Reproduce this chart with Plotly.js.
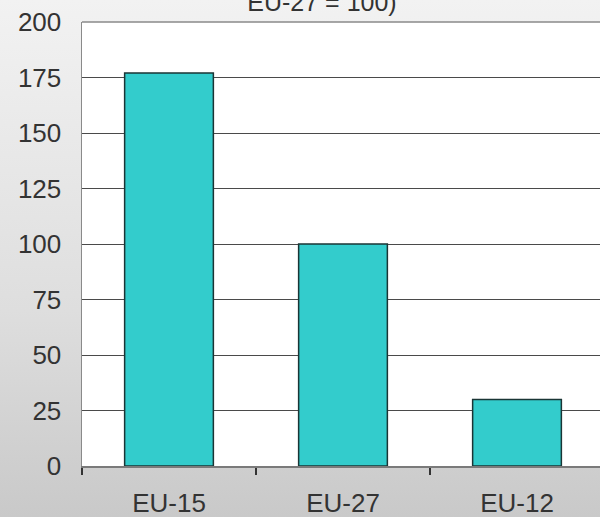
<!DOCTYPE html>
<html>
<head>
<meta charset="utf-8">
<script src="https://cdn.plot.ly/plotly-3.0.1.min.js"></script>
<style>
  html, body { margin: 0; padding: 0; }
  body { width: 600px; height: 517px; background: linear-gradient(to bottom, #f2f2f2 0%, #dedede 60%, #c9c9c9 100%); overflow: hidden; }
  #chart { width: 600px; height: 517px; }
</style>
</head>
<body>
<div id="chart"></div>
<script>
const categories = ["EU-15", "EU-27", "EU-12"];
const values = [177, 100, 30];
const yTicks = [0, 25, 50, 75, 100, 125, 150, 175, 200];
const titleText = "EU-27 = 100)";

const font = "Liberation Sans, Arial, sans-serif";

const trace = {
  type: "bar",
  x: categories,
  y: values,
  marker: { color: "#33cccc", line: { color: "#1a3535", width: 1.5 } },
  hoverinfo: "x+y"
};

const layout = {
  width: 600,
  height: 517,
  margin: { l: 82, r: 0, t: 22, b: 51, pad: 0 },
  paper_bgcolor: "rgba(0,0,0,0)",
  plot_bgcolor: "#ffffff",
  showlegend: false,
  bargap: 0.49,
  title: {
    text: titleText,
    font: { family: font, size: 25, color: "#333333" },
    x: 322 / 600, xanchor: "center", xref: "container",
    y: 1 - 11 / 517, yanchor: "bottom", yref: "container"
  },
  xaxis: {
    type: "category",
    range: [-0.5, 2.477],
    showgrid: false,
    showline: true,
    linecolor: "#7a7a7a",
    linewidth: 1.5,
    ticks: "outside",
    tickson: "boundaries",
    ticklen: 7,
    tickwidth: 1.5,
    tickcolor: "#333333",
    ticklabelstandoff: 13,
    tickfont: { family: font, size: 26, color: "#333333" },
    fixedrange: true
  },
  yaxis: {
    range: [0, 200],
    tickvals: yTicks,
    ticktext: yTicks.map(String),
    showgrid: true,
    gridcolor: "#4a4a4a",
    gridwidth: 1,
    zeroline: false,
    showline: true,
    linecolor: "#8a8a8a",
    linewidth: 1.5,
    ticks: "",
    ticklabelstandoff: 14,
    tickfont: { family: font, size: 26, color: "#333333" },
    fixedrange: true
  },
  shapes: [{
    type: "line", xref: "paper", yref: "paper",
    x0: 0, x1: 1, y0: 1, y1: 1,
    line: { color: "#8a8a8a", width: 1.5 },
    layer: "above"
  }]
};

Plotly.newPlot("chart", [trace], layout, { displayModeBar: false, staticPlot: true });
</script>
</body>
</html>
